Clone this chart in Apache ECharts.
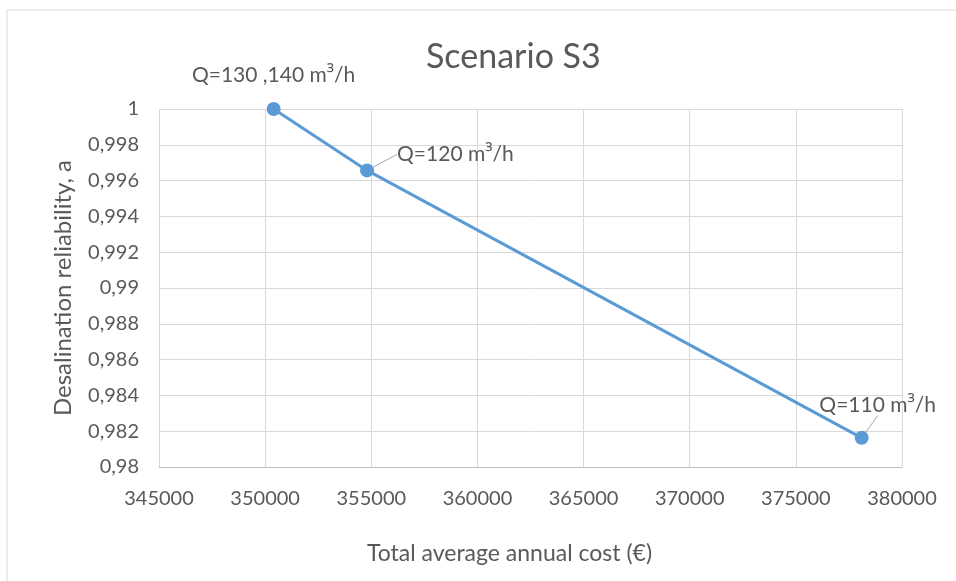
<!DOCTYPE html>
<html>
<head>
<meta charset="utf-8">
<script src="https://cdn.jsdelivr.net/npm/echarts@6/dist/echarts.min.js"></script>
<style>
  html, body { margin: 0; padding: 0; background: #ffffff; }
  #chart { width: 956px; height: 581px; }
</style>
</head>
<body>
<div id="chart"></div>
<script>
// Annual cost (€) against desalination reliability for scenario S3
const costs = [350400, 354800, 378100];
const reliability = [1.0, 0.99657, 0.98163];
const flowLabels = ['Q=130 ,140 m', 'Q=120 m', 'Q=110 m'];

const xTicks = { min: 345000, max: 380000, interval: 5000 };
const yTicks = { min: 0.98, max: 1.0, interval: 0.002 };

const FONT = 'Lato';
const GREY = '#595959';

// per-point label offsets (label, leader line)
const labelShift = [
  { dx: 0, dy: 0 },
  { dx: 18, dy: -16 },
  { dx: 16, dy: -10 }
];

const chart = echarts.init(document.getElementById('chart'), null, { renderer: 'canvas' });

const labelRich = {
  t: { fontFamily: FONT, fontSize: 21, color: GREY },
  sup: { fontFamily: 'Open Sans', fontSize: 21, color: GREY }
};

chart.setOption({
  backgroundColor: '#ffffff',
  animation: false,
  textStyle: { fontFamily: FONT },
  title: {
    text: 'Scenario S3',
    left: 421,
    top: 35,
    textStyle: { fontFamily: FONT, fontSize: 34, fontWeight: 'normal', color: GREY }
  },
  graphic: [{
    type: 'rect',
    shape: { x: 7, y: 10, width: 1000, height: 700 },
    style: { fill: 'none', stroke: '#d9d9d9', lineWidth: 1 },
    silent: true
  }],
  grid: { left: 159, right: 54, top: 109, bottom: 114 },
  xAxis: {
    type: 'value',
    min: xTicks.min,
    max: xTicks.max,
    interval: xTicks.interval,
    name: 'Total average annual cost (€)',
    nameLocation: 'middle',
    nameGap: 75,
    nameTextStyle: { fontFamily: FONT, fontSize: 23, color: GREY, padding: [0, 42, 0, 0] },
    axisLine: { show: true, lineStyle: { color: '#bfbfbf', width: 1 } },
    axisTick: { show: false },
    axisLabel: { fontFamily: FONT, fontSize: 20, color: GREY, margin: 22, formatter: v => String(v) },
    splitLine: { show: true, lineStyle: { color: '#d9d9d9', width: 1 } }
  },
  yAxis: {
    type: 'value',
    min: yTicks.min,
    max: yTicks.max,
    interval: yTicks.interval,
    name: 'Desalination reliability, a',
    nameLocation: 'middle',
    nameGap: 84,
    nameTextStyle: { fontFamily: FONT, fontSize: 24, color: GREY },
    axisLine: { show: false },
    axisTick: { show: false },
    axisLabel: {
      fontFamily: FONT, fontSize: 20, color: GREY, margin: 20,
      formatter: v => String(+v.toFixed(3)).replace('.', ',')
    },
    splitLine: { show: true, lineStyle: { color: '#d9d9d9', width: 1 } }
  },
  series: [{
    type: 'line',
    symbol: 'circle',
    symbolSize: 14,
    lineStyle: { color: '#5b9bd5', width: 3 },
    itemStyle: { color: '#5b9bd5' },
    label: {
      show: true,
      fontFamily: FONT,
      fontSize: 21,
      color: GREY,
      rich: labelRich,
      formatter: p => '{t|' + flowLabels[p.dataIndex] + '}{sup|³}{t|/h}'
    },
    labelLine: { show: true, lineStyle: { color: '#a6a6a6', width: 1 } },
    labelLayout: p => labelShift[p.dataIndex],
    data: costs.map((c, i) => ({
      value: [c, reliability[i]],
      label: i === 1 ? { position: 'right', distance: 5 }
           : { position: 'top', distance: i === 0 ? 16 : 5 },
      labelLine: { show: i !== 0 }
    }))
  }]
});
</script>
</body>
</html>
